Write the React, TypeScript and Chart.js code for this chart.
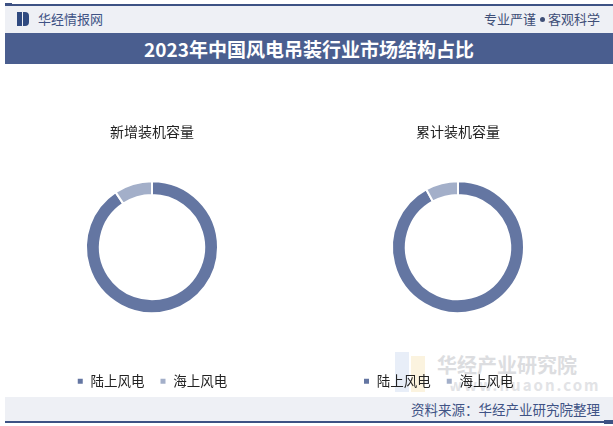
import React, { useEffect, useRef } from "react";
import { Chart, registerables } from "chart.js";

Chart.register(...registerables);

const categories = ["陆上风电", "海上风电"];
const newInstalled = [90.7, 9.3];
const cumulativeInstalled = [92.0, 8.0];
const chartTitles = ["新增装机容量", "累计装机容量"];
const mainTitle = "2023年中国风电吊装行业市场结构占比";
const sourceText = "资料来源：华经产业研究院整理";

const DARK = "#6476a2";
const LIGHT = "#a3afc9";
const FONT = "'Noto Sans CJK SC', 'Noto Sans', sans-serif";

function makeConfig(title: string, values: number[], align: "start" | "center", pad: { left: number; right: number }): any {
  return {
    type: "doughnut",
    data: {
      labels: categories,
      datasets: [
        {
          data: values,
          backgroundColor: [DARK, LIGHT],
          borderColor: "#ffffff",
          borderWidth: 2,
          radius: 66,
          cutout: "79%",
        },
      ],
    },
    options: {
      responsive: false,
      animation: false,
      events: [],
      layout: { padding: { left: pad.left, right: pad.right, top: 0, bottom: 0 } },
      plugins: {
        tooltip: { enabled: false },
        title: {
          display: true,
          text: title,
          color: "#222222",
          font: { family: FONT, size: 14, weight: "normal", lineHeight: 1.2 },
          padding: { top: 59, bottom: 0 },
        },
        legend: {
          display: true,
          position: "bottom",
          align,
          title: { display: true, text: "", font: { size: 5, lineHeight: 1 }, padding: 0 },
          labels: {
            boxWidth: 7,
            boxHeight: 7,
            padding: 15,
            color: "#222222",
            font: { family: FONT, size: 13.5 },
          },
        },
      },
    },
  };
}

function Donut(props: { title: string; values: number[]; left: number; width: number; align: "start" | "center"; pad: { left: number; right: number } }) {
  const ref = useRef<HTMLCanvasElement | null>(null);
  useEffect(() => {
    if (!ref.current) return;
    const chart = new Chart(ref.current, makeConfig(props.title, props.values, props.align, props.pad));
    return () => chart.destroy();
  }, []);
  return (
    <canvas
      ref={ref}
      width={props.width}
      height={334}
      style={{ position: "absolute", left: props.left, top: 64, width: props.width, height: 334 }}
    />
  );
}

export default function App() {
  useEffect(() => {
    document.body.style.margin = "0";
  }, []);
  const text: React.CSSProperties = { position: "absolute", fontFamily: FONT, whiteSpace: "nowrap" };
  return (
    <div style={{ position: "relative", width: 613, height: 426, background: "#ffffff", overflow: "hidden" }}>
      {/* top line */}
      <div style={{ position: "absolute", left: 5, top: 4, width: 608, height: 2, background: "#3d5284" }} />
      <div style={{ position: "absolute", left: 5, top: 3, width: 7, height: 4, background: "#3d5284" }} />
      {/* header band */}
      <div style={{ position: "absolute", left: 5, top: 6, width: 608, height: 27, background: "#eef0f5" }} />
      {/* logo */}
      <div style={{ position: "absolute", left: 17, top: 12, width: 5, height: 14, background: "#2f4a80" }} />
      <div style={{ position: "absolute", left: 23, top: 12, width: 6, height: 14, background: "#2f4a80", borderRadius: "0 4px 4px 0" }} />
      <div style={{ ...text, left: 38, top: 10, fontSize: 13, lineHeight: "18px", color: "#3f5385" }}>华经情报网</div>
      <div style={{ ...text, right: 13, top: 10, fontSize: 13, lineHeight: "18px", color: "#3f4f77" }}>
        专业严谨
        <span
          style={{
            display: "inline-block",
            width: 5,
            height: 5,
            borderRadius: 3,
            background: "#3f4f77",
            verticalAlign: "middle",
            margin: "0 3px 2px 4px",
          }}
        />
        客观科学
      </div>
      {/* title band */}
      <div style={{ position: "absolute", left: 5, top: 33, width: 608, height: 31, background: "#4a5e8f" }} />
      <div
        style={{
          ...text,
          left: 5,
          width: 608,
          top: 33,
          height: 31,
          lineHeight: "31px",
          textAlign: "center",
          fontSize: 19,
          fontWeight: "bold",
          color: "#ffffff",
        }}
      >
        {mainTitle}
      </div>
      {/* watermark (bottom right) */}
      <div style={{ position: "absolute", left: 395, top: 352, width: 14, height: 40, background: "#e8eef8" }} />
      <div style={{ position: "absolute", left: 411, top: 356, width: 14, height: 36, background: "#fbf3df" }} />
      <div style={{ ...text, left: 437, top: 352, fontSize: 20, lineHeight: "26px", fontWeight: "bold", color: "#dcdde0" }}>华经产业研究院</div>
      <div style={{ ...text, left: 449, top: 376, fontSize: 15, lineHeight: "18px", fontWeight: "bold", letterSpacing: 2, color: "#e2e3e6" }}>www.huaon.com</div>
      {/* footer band */}
      <div style={{ position: "absolute", left: 5, top: 397, width: 608, height: 24, background: "#eef0f5" }} />
      <div style={{ ...text, right: 13, top: 399, fontSize: 13.5, lineHeight: "20px", color: "#3f5385" }}>{sourceText}</div>
      <div style={{ position: "absolute", left: 5, top: 421, width: 608, height: 2, background: "#3d5284" }} />
      <div style={{ position: "absolute", left: 604, top: 420, width: 9, height: 4, background: "#3d5284" }} />
      {/* charts */}
      <Donut title={chartTitles[0]} values={newInstalled} left={0} width={304} align="center" pad={{ left: 0, right: 0 }} />
      <Donut title={chartTitles[1]} values={cumulativeInstalled} left={306} width={307} align="start" pad={{ left: 42, right: 45 }} />
    </div>
  );
}
